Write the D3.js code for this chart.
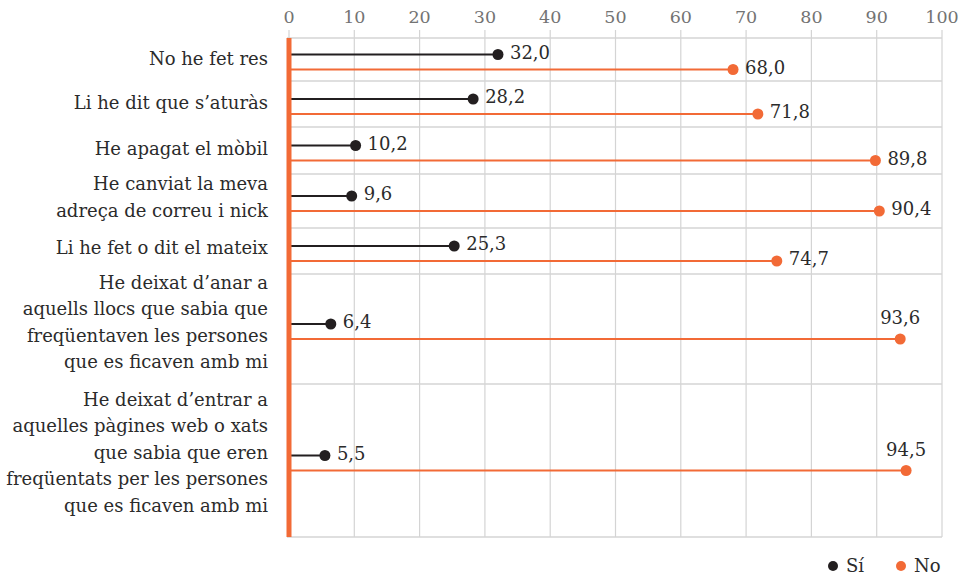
<!DOCTYPE html>
<html>
<head>
<meta charset="utf-8">
<script src="https://cdn.jsdelivr.net/npm/d3@7"></script>
<style>
  html, body { margin: 0; padding: 0; background: #fff; }
  svg { display: block; }
</style>
</head>
<body>
<svg id="chart" width="965" height="577"></svg>
<script>
// data
const categories = [
    "No he fet res",
    "Li he dit que s’aturàs",
    "He apagat el mòbil",
    "He canviat la meva\nadreça de correu i nick",
    "Li he fet o dit el mateix",
    "He deixat d’anar a\naquells llocs que sabia que\nfreqüentaven les persones\nque es ficaven amb mi",
    "He deixat d’entrar a\naquelles pàgines web o xats\nque sabia que eren\nfreqüentats per les persones\nque es ficaven amb mi"
];
const siValues = [32.0, 28.2, 10.2, 9.6, 25.3, 6.4, 5.5];
const noValues = [68.0, 71.8, 89.8, 90.4, 74.7, 93.6, 94.5];
const xTicks   = [0, 10, 20, 30, 40, 50, 60, 70, 80, 90, 100];
const series   = ["Sí", "No"];

// layout
const rowHeights = [43, 46, 47, 54, 46, 110, 153];
const rowShift   = [2, 2, 1, -1, 0, -4, -5];   // label nudge per row
const plot = { left: 289, right: 942, top: 38 };
const colors = { si: '#231f20', no: '#f26a36', grid: '#d4d4d4', tick: '#737373', text: '#2b2b2b' };
const font = "'DejaVu Serif', serif";

const svg = d3.select('#chart');

let x = d3.scaleLinear().domain([0, 100]).range([plot.left, plot.right]);

// rows from cumulative heights
let rows = [];
let y = plot.top;
for (var i in categories) {
    rows.push({
        label: categories[i].split('\n'),
        si: siValues[i],
        no: noValues[i],
        y0: y,
        h: rowHeights[i],
        shift: rowShift[i]
    });
    y += rowHeights[i];
}
const plotBottom = y;

let fmt = (v) => d3.format('.1f')(v).replace('.', ',');

// grid
svg.append('g')
    .selectAll('line.vgrid')
    .data(xTicks)
    .enter()
    .append('line')
    .attr('class', 'vgrid')
    .attr('x1', (d) => x(d))
    .attr('x2', (d) => x(d))
    .attr('y1', plot.top - 8)
    .attr('y2', plotBottom)
    .attr('stroke', colors.grid)
    .attr('stroke-width', 1.2);

svg.append('g')
    .selectAll('line.hgrid')
    .data(rows.map((d) => d.y0).concat([plotBottom]))
    .enter()
    .append('line')
    .attr('class', 'hgrid')
    .attr('x1', plot.left - 2)
    .attr('x2', plot.right)
    .attr('y1', (d) => d)
    .attr('y2', (d) => d)
    .attr('stroke', colors.grid)
    .attr('stroke-width', 1.5);

// top axis labels
svg.append('g')
    .selectAll('text.tick')
    .data(xTicks)
    .enter()
    .append('text')
    .attr('class', 'tick')
    .attr('x', (d) => x(d))
    .attr('y', 23)
    .attr('text-anchor', 'middle')
    .attr('font-family', font)
    .attr('font-size', 17.5)
    .attr('fill', colors.tick)
    .text((d) => d);

// category labels
let lineH = 26.5;
let labels = svg.append('g')
    .selectAll('text.cat')
    .data(rows)
    .enter()
    .append('text')
    .attr('class', 'cat')
    .attr('text-anchor', 'end')
    .attr('font-family', font)
    .attr('font-size', 18)
    .attr('fill', colors.text);

labels.each(function (d) {
    let n = d.label.length;
    let cy = d.y0 + d.h / 2 - 3 + d.shift;
    let first = cy - (n - 1) * lineH / 2;
    d3.select(this)
        .selectAll('tspan')
        .data(d.label)
        .enter()
        .append('tspan')
        .attr('x', 268)
        .attr('y', (t, j) => first + j * lineH)
        .attr('dy', '0.35em')
        .text((t) => t);
});

// lollipops
let ySi = (d) => d.y0 + d.h / 2 - 5;
let yNo = (d) => d.y0 + d.h / 2 + 10;

let g = svg.append('g');

g.selectAll('line.si')
    .data(rows)
    .enter()
    .append('line')
    .attr('x1', x(0))
    .attr('x2', (d) => x(d.si))
    .attr('y1', ySi)
    .attr('y2', ySi)
    .attr('stroke', colors.si)
    .attr('stroke-width', 1.8);

g.selectAll('line.no')
    .data(rows)
    .enter()
    .append('line')
    .attr('x1', x(0))
    .attr('x2', (d) => x(d.no))
    .attr('y1', yNo)
    .attr('y2', yNo)
    .attr('stroke', colors.no)
    .attr('stroke-width', 2);

g.selectAll('circle.si')
    .data(rows)
    .enter()
    .append('circle')
    .attr('cx', (d) => x(d.si))
    .attr('cy', ySi)
    .attr('r', 5.5)
    .attr('fill', colors.si);

g.selectAll('circle.no')
    .data(rows)
    .enter()
    .append('circle')
    .attr('cx', (d) => x(d.no))
    .attr('cy', yNo)
    .attr('r', 5.5)
    .attr('fill', colors.no);

// value labels
g.selectAll('text.si')
    .data(rows)
    .enter()
    .append('text')
    .attr('x', (d) => x(d.si) + 12)
    .attr('y', (d) => ySi(d) - 2)
    .attr('dy', '0.35em')
    .attr('font-family', font)
    .attr('font-size', 18)
    .attr('fill', colors.text)
    .text((d) => fmt(d.si));

g.selectAll('text.no')
    .data(rows)
    .enter()
    .append('text')
    .attr('x', (d) => d.no > 92 ? x(d.no) : x(d.no) + 12)
    .attr('y', (d) => d.no > 92 ? yNo(d) - 21 : yNo(d) - 2)
    .attr('dy', '0.35em')
    .attr('text-anchor', (d) => d.no > 92 ? 'middle' : 'start')
    .attr('font-family', font)
    .attr('font-size', 18)
    .attr('fill', colors.text)
    .text((d) => fmt(d.no));

// orange base bar
svg.append('rect')
    .attr('x', x(0) - 2.5)
    .attr('y', plot.top)
    .attr('width', 5)
    .attr('height', plotBottom - plot.top)
    .attr('fill', colors.no);

// legend
let legend = svg.append('g')
    .selectAll('g.legend')
    .data(series)
    .enter()
    .append('g')
    .attr('class', 'legend')
    .attr('transform', (d, i) => 'translate(' + (833 + i * 68) + ',566)');

legend.append('circle')
    .attr('r', 5)
    .attr('fill', (d, i) => i == 0 ? colors.si : colors.no);

legend.append('text')
    .attr('x', 13)
    .attr('dy', '0.35em')
    .attr('font-family', font)
    .attr('font-size', 18)
    .attr('fill', colors.text)
    .text((d) => d);
</script>
</body>
</html>
